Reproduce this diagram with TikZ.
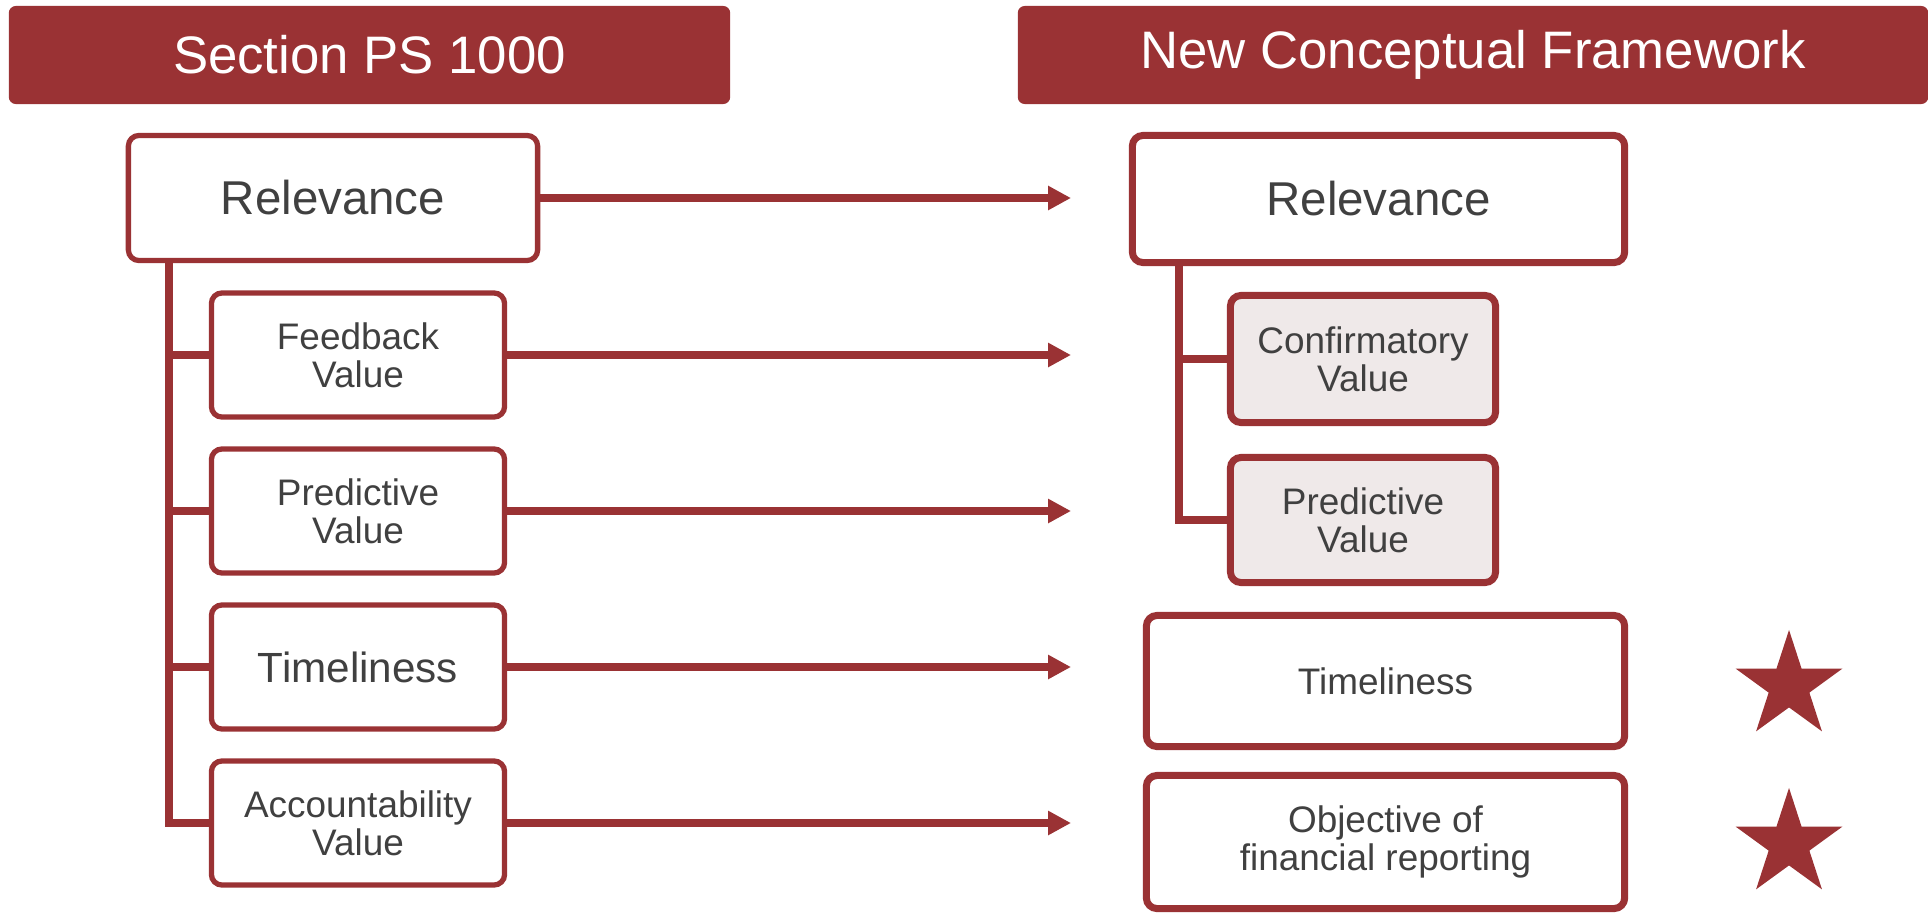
\documentclass[tikz,border=0pt]{standalone}
\usepackage{fontspec}
\setmainfont{Liberation Sans}
\usetikzlibrary{arrows.meta,shapes.geometric}
\definecolor{psred}{RGB}{154,50,52}
\definecolor{boxgray}{RGB}{239,233,233}
\definecolor{txtgray}{RGB}{64,64,64}

\begin{document}
\begin{tikzpicture}[x=0.01cm,y=-0.01cm,
    hdr/.style={fill=psred,rounded corners=2pt,text=white,inner sep=0pt,minimum height=0.98cm,font=\fontsize{15}{18}\selectfont},
    lbox/.style={draw=psred,line width=1.5pt,rounded corners=3pt,fill=white,text=txtgray,align=center,inner sep=0pt,font=\fontsize{10.5}{10.8}\selectfont},
    rbox/.style={lbox,line width=2pt},
    tree/.style={draw=psred,line width=2.1pt},
    arr/.style={draw=psred,line width=2.1pt,-{Triangle[length=0.23cm,width=0.23cm]}},
    starmark/.style={star,star points=5,star point ratio=2.618,fill=psred,inner sep=0pt,minimum size=1.12cm}]
  \useasboundingbox (0,0) rectangle (1928,915);

  % headers
  \node[hdr,minimum width=7.21cm] (hl) at (369.5,55) {Section PS 1000};
  \node[hdr,minimum width=9.10cm] (hr) at (1473,55) {New Conceptual Framework};

  % left column
  \node[lbox,minimum width=4.09cm,minimum height=1.25cm,font=\fontsize{13.5}{16}\selectfont] (lrel) at (333,198) {Relevance};
  \node[lbox,minimum width=2.93cm,minimum height=1.24cm] (lfb) at (358,355) {Feedback\\Value};
  \node[lbox,minimum width=2.93cm,minimum height=1.24cm] (lpred) at (358,511) {Predictive\\Value};
  \node[lbox,minimum width=2.93cm,minimum height=1.24cm,font=\fontsize{12}{14}\selectfont] (ltime) at (358,667) {Timeliness};
  \node[lbox,minimum width=2.93cm,minimum height=1.24cm] (lacc) at (358,823) {Accountability\\Value};

  \coordinate (ltrunk) at (169,0);
  \draw[tree] (ltrunk |- lrel.south) -- (ltrunk |- lacc) -- (lacc.west);
  \foreach \b in {lfb,lpred,ltime}
    \draw[tree] (ltrunk |- \b) -- (\b.west);

  % right column
  \node[rbox,minimum width=4.92cm,minimum height=1.27cm,font=\fontsize{13.5}{16}\selectfont] (rrel) at (1378.5,199) {Relevance};
  \node[rbox,fill=boxgray,minimum width=2.65cm,minimum height=1.27cm] (rconf) at (1363,359) {Confirmatory\\Value};
  \node[rbox,fill=boxgray,minimum width=2.65cm,minimum height=1.25cm] (rpred) at (1363,520) {Predictive\\Value};
  \node[rbox,minimum width=4.78cm,minimum height=1.31cm] (rtime) at (1385.5,681) {Timeliness};
  \node[rbox,minimum width=4.78cm,minimum height=1.33cm] (robj) at (1385.5,842) {Objective of\\financial reporting};

  \coordinate (rtrunk) at (1179,0);
  \draw[tree] (rtrunk |- rrel.south) -- (rtrunk |- rpred) -- (rpred.west);
  \draw[tree] (rtrunk |- rconf) -- (rconf.west);

  % arrows
  \coordinate (tip) at (1071,0);
  \foreach \b in {lrel,lfb,lpred,ltime,lacc}
    \draw[arr] (\b.east) -- (\b.east -| tip);

  % stars
  \node[starmark] (st1) at (1789,686) {};
  \node[starmark] (st2) at (1789,844) {};
\end{tikzpicture}
\end{document}
